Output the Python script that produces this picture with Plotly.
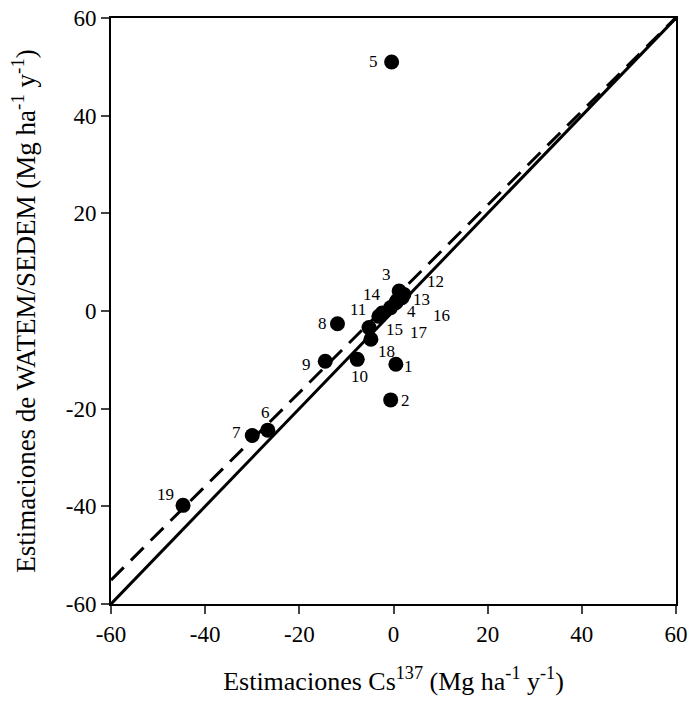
import plotly.graph_objects as go

# Data
ids = ["1","2","3","4","5","6","7","8","9","10","11","12","13","14","15","16","17","18","19"]
cs137 = [0.5, -0.6, 1.2, -0.6, -0.4, -26.7, -30.0, -11.9, -14.5, -7.7, -2.4, 2.2, 1.8, 0.5, -5.2, 0.7, -3.1, -4.8, -44.7]
watem = [-10.9, -18.2, 4.1, 0.7, 51.0, -24.4, -25.5, -2.6, -10.3, -9.9, -0.4, 3.4, 2.7, 1.7, -3.4, 2.1, -1.1, -5.8, -39.8]

# label offsets in pixels (dx right, dy up)
label_dx = [13, 15, -13, 21, -18, -2, -16, -15, -19, 2, -24, 32, 20, -24, 25, 45, 40, 16, -18]
label_dy = [-2, -1, 16, -4, 0, 18, 3, 0, -3, -17, 3, 13, -2, 8, -2, -15, -16, -12, 11]

axis_range = [-60, 60]
tick_vals = [-60, -40, -20, 0, 20, 40, 60]
tick_text = ["-60", "-40", "-20", "0", "20", "40", "60"]
reg_slope = 0.96
reg_intercept = 2.5

font_family = "Liberation Serif, Times New Roman, serif"

fig = go.Figure()

# 1:1 line
fig.add_trace(go.Scatter(x=axis_range, y=axis_range, mode="lines",
                         line=dict(color="black", width=3), hoverinfo="skip", showlegend=False,
                         cliponaxis=False))
# regression line (dashed)
fig.add_trace(go.Scatter(x=axis_range, y=[reg_slope * v + reg_intercept for v in axis_range], mode="lines",
                         line=dict(color="black", width=3, dash="18px,10px"), hoverinfo="skip", showlegend=False))
# points
fig.add_trace(go.Scatter(x=cs137, y=watem, mode="markers",
                         marker=dict(color="black", size=15), showlegend=False))

for i, lab in enumerate(ids):
    fig.add_annotation(x=cs137[i], y=watem[i], text=lab, showarrow=False,
                       xshift=label_dx[i], yshift=label_dy[i],
                       font=dict(family=font_family, size=17, color="black"))

axis_common = dict(range=axis_range, tickvals=tick_vals, ticktext=tick_text, ticks="outside",
                   ticklen=8, tickwidth=2, automargin=False,
                   showline=True, linewidth=2, linecolor="black", mirror=True, showgrid=False,
                   zeroline=False, tickfont=dict(family=font_family, size=23, color="black"))

fig.update_xaxes(**axis_common,
                 title=dict(text="Estimaciones Cs<sup>137</sup> (Mg ha<sup>-1</sup> y<sup>-1</sup>)",
                            font=dict(family=font_family, size=26, color="black"), standoff=26))
fig.update_yaxes(**axis_common,
                 title=dict(text="Estimaciones de WATEM/SEDEM (Mg ha<sup>-1</sup> y<sup>-1</sup>)",
                            font=dict(family=font_family, size=27, color="black"), standoff=22))

fig.update_layout(width=700, height=705, margin=dict(l=111, r=24, t=18, b=101),
                  plot_bgcolor="white", paper_bgcolor="white")

fig.write_html("out.html", config={"displayModeBar": False},
               post_script="document.body.style.margin='0';")
